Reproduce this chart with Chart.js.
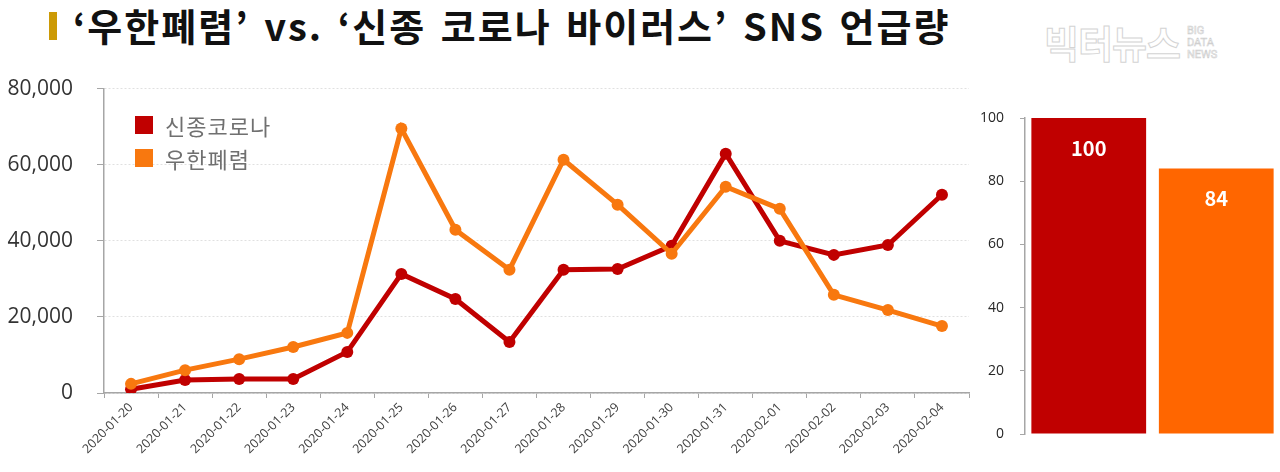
<!DOCTYPE html>
<html>
<head>
<meta charset="utf-8">
<script src="https://cdn.jsdelivr.net/npm/chart.js@4.4.1/dist/chart.umd.min.js"></script>
<style>
  html, body { margin: 0; padding: 0; background: #fff; }
  body { width: 1280px; height: 472px; position: relative; overflow: hidden; font-family: "Noto Sans CJK KR", "Open Sans", sans-serif; }
  #title-bar { position: absolute; left: 49px; top: 12px; width: 8px; height: 28px; background: #CC9a06; }
  #title { position: absolute; left: 73px; top: -3px; font-size: 38px; font-weight: 700; color: #111; white-space: nowrap; letter-spacing: 2px; word-spacing: 4px; }
  #logo { position: absolute; left: 1044px; top: 14px; font-size: 38px; font-weight: 700; color: #fff; -webkit-text-stroke: 1px #d4d4d4; letter-spacing: -1px; }
  #logo-sub { position: absolute; left: 1187px; top: 25px; font-family: "Roboto", sans-serif; font-size: 11px; line-height: 12px; color: #fff; -webkit-text-stroke: 0.6px #cfcfcf; }
  #line-wrap { position: absolute; left: 0; top: 52px; width: 975px; height: 420px; }
  #bar-wrap { position: absolute; left: 975px; top: 80px; width: 305px; height: 392px; }
  #legend { position: absolute; left: 135px; top: 108px; font-size: 22px; color: #707070; letter-spacing: 1px; }
  .lg-item { display: flex; align-items: center; height: 33px; }
  .lg-box { width: 18px; height: 18px; margin-right: 12px; }
</style>
</head>
<body>
<div id="title-bar"></div>
<div id="title">‘우한폐렴’ vs. ‘신종 코로나 바이러스’ SNS 언급량</div>
<div id="logo">빅터뉴스</div>
<div id="logo-sub">BIG<br>DATA<br>NEWS</div>
<div id="line-wrap"><canvas id="lineChart"></canvas></div>
<div id="bar-wrap"><canvas id="barChart"></canvas></div>
<div id="legend"></div>
<script>
const dates = ["2020-01-20", "2020-01-21", "2020-01-22", "2020-01-23", "2020-01-24", "2020-01-25", "2020-01-26", "2020-01-27",
  "2020-01-28", "2020-01-29", "2020-01-30", "2020-01-31", "2020-02-01", "2020-02-02", "2020-02-03", "2020-02-04"];
const corona = [1000, 3400, 3700, 3700, 10800, 31300, 24700, 13400, 32400, 32600, 38700, 62900, 40000, 36300, 38900, 52100];
const wuhan = [2400, 6000, 8900, 12100, 15800, 69500, 42900, 32400, 61300, 49500, 36600, 54200, 48400, 25800, 21800, 17600];
const seriesNames = ["신종코로나", "우한폐렴"];
const lineColors = ["#C00000", "#F8780F"];
const barColors = ["#C00000", "#FF6600"];
const shareValues = [100, 84];

const legend = document.getElementById("legend");
seriesNames.forEach((name, i) => {
  const item = document.createElement("div");
  item.className = "lg-item";
  item.innerHTML = `<div class="lg-box" style="background:${lineColors[i]}"></div><span>${name}</span>`;
  legend.appendChild(item);
});

const axisFont = { family: "'Open Sans', 'Noto Sans CJK KR', sans-serif" };

new Chart(document.getElementById("lineChart"), {
  type: "line",
  data: {
    labels: dates,
    datasets: [corona, wuhan].map((d, i) => ({
      label: seriesNames[i],
      data: d,
      borderColor: lineColors[i],
      backgroundColor: lineColors[i],
      pointBackgroundColor: lineColors[i],
      pointBorderColor: lineColors[i],
      borderWidth: 5,
      pointRadius: 6,
      pointBorderWidth: 0,
      tension: 0
    })).reverse()
  },
  options: {
    responsive: true,
    maintainAspectRatio: false,
    animation: false,
    layout: { padding: { top: 9, right: 5, left: 0, bottom: 0 } },
    plugins: { legend: { display: false }, tooltip: { enabled: false } },
    scales: {
      x: {
        offset: true,
        grid: { offset: true, drawOnChartArea: false, tickLength: 5, tickColor: "#a6a6a6" },
        border: { color: "#a6a6a6", width: 1.5 },
        ticks: { maxRotation: 45, minRotation: 45, color: "#404040", padding: 2, font: { ...axisFont, size: 12.5 } },
        afterFit: s => { s.height = 79; }
      },
      y: {
        min: 0,
        max: 80000,
        ticks: {
          stepSize: 20000,
          color: "#333",
          padding: 24,
          font: { ...axisFont, size: 21 },
          callback: v => v.toLocaleString("en-US")
        },
        grid: { color: "#e0e0e0", tickColor: "#a6a6a6", tickLength: 7, tickBorderDash: [] },
        border: { color: "#a6a6a6", width: 1.5, dash: [2, 2] },
        afterFit: s => { s.width = 104; }
      }
    }
  }
});

const barLabels = {
  id: "barLabels",
  afterDatasetsDraw(chart) {
    const ctx = chart.ctx;
    const meta = chart.getDatasetMeta(0);
    ctx.save();
    ctx.font = "bold 20px 'Noto Sans CJK KR', 'Open Sans', sans-serif";
    ctx.fillStyle = "#fff";
    ctx.textAlign = "center";
    ctx.textBaseline = "middle";
    meta.data.forEach((bar, i) => {
      ctx.fillText(String(shareValues[i]), bar.x, bar.y + 30);
    });
    ctx.restore();
  }
};

new Chart(document.getElementById("barChart"), {
  type: "bar",
  data: {
    labels: seriesNames,
    datasets: [{
      data: shareValues,
      backgroundColor: barColors,
      barPercentage: 0.9,
      categoryPercentage: 1
    }]
  },
  plugins: [barLabels],
  options: {
    responsive: true,
    maintainAspectRatio: false,
    animation: false,
    layout: { padding: { top: 38, right: 0, left: 0, bottom: 38 } },
    plugins: { legend: { display: false }, tooltip: { enabled: false } },
    scales: {
      x: { display: false },
      y: {
        min: 0,
        max: 100,
        ticks: { stepSize: 20, color: "#262626", padding: 16, font: { ...axisFont, size: 14 } },
        grid: { drawOnChartArea: false, tickColor: "#a6a6a6", tickLength: 5 },
        border: { color: "#a6a6a6", width: 1.5 },
        afterFit: s => { s.width = 50; }
      }
    }
  }
});
</script>
</body>
</html>
